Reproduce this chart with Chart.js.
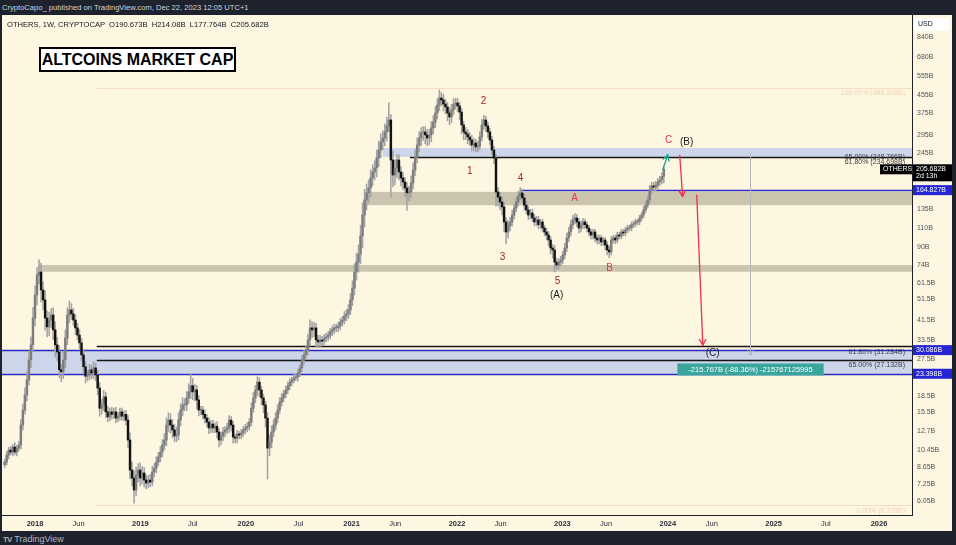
<!DOCTYPE html>
<html>
<head>
<meta charset="utf-8">
<script src="https://cdn.jsdelivr.net/npm/chart.js@4.4.1/dist/chart.umd.min.js"></script>
<style>
  html, body { margin: 0; padding: 0; width: 956px; height: 545px; overflow: hidden; background: #1e222d; font-family: "Liberation Sans", Arial, sans-serif; }
  #top { position: absolute; left: 2px; top: 0; height: 15px; line-height: 15px; color: #d1d4dc; font-size: 7.6px; }
  #wrap { position: absolute; left: 2px; top: 15px; width: 950px; height: 516px; background: #fdf6e1; }
  #legend { position: absolute; left: 5px; top: 5px; font-size: 7.6px; color: #131722; white-space: pre; }
  #title { position: absolute; left: 37px; top: 32px; width: 193px; height: 21px; line-height: 21px; border: 2px solid #000; background: #fff; font-weight: bold; font-size: 16px; text-align: center; color: #000; }
  #foot { position: absolute; left: 3px; top: 533px; height: 12px; line-height: 12px; color: #b2b5be; font-size: 9px; }
  #foot b { font-size: 8px; margin-right: 3px; letter-spacing: -1px; }
</style>
</head>
<body>
<div id="top">CryptoCapo_ published on TradingView.com, Dec 22, 2023 12:05 UTC+1</div>
<div id="wrap">
  <canvas id="chart" width="950" height="516"></canvas>
  <div id="legend">OTHERS, 1W, CRYPTOCAP  O190.673B  H214.08B  L177.764B  C205.682B</div>
  <div id="title">ALTCOINS MARKET CAP</div>
</div>
<div id="foot"><b>TV</b>TradingView</div>
<script>
// weekly candles, first one is the week of 18 Sep 2017, values in billions USD
const firstWeek = '2017-09-18';
const firstOpen = 8.9;
const closes = [
  9.15, 9.86, 10.4, 10.18, 10.73, 10.18, 10.62, 10.97, 13.56, 15.9,
  18.67, 21.9, 27.1, 31.8, 42.3, 54.1, 66.9, 69.0, 57.0, 51.3,
  42.3, 38.5, 41.4, 43.7, 37.3, 31.8, 29.5, 24.4, 23.9, 27.1,
  34.2, 43.7, 46.1, 44.2, 41.4, 38.1, 35.3, 32.5, 28.6, 25.2,
  22.8, 23.1, 24.4, 23.6, 24.9, 23.1, 20.1, 16.2, 16.8, 18.3,
  15.6, 14.8, 15.6, 15.2, 15.6, 14.6, 14.9, 15.6, 14.9, 15.2,
  14.3, 11.57, 8.41, 7.72, 6.80, 7.97, 8.41, 7.72, 8.15, 7.56,
  7.32, 7.56, 7.40, 8.24, 8.59, 9.15, 9.65, 10.18, 10.97, 11.57,
  13.56, 14.3, 13.56, 12.87, 12.07, 12.2, 14.3, 15.9, 16.8, 16.8,
  18.1, 19.3, 20.6, 19.3, 19.7, 17.7, 15.9, 15.9, 15.2, 14.6,
  14.0, 13.15, 13.7, 13.15, 13.4, 12.6, 11.57, 12.07, 12.6, 12.87,
  13.15, 14.3, 13.56, 11.94, 11.8, 12.33, 12.2, 12.46, 12.87, 13.15,
  13.4, 14.0, 16.2, 18.1, 19.7, 21.4, 19.7, 18.1, 16.8, 14.6,
  10.62, 11.32, 12.6, 13.56, 14.6, 15.9, 17.3, 18.1, 18.9, 19.7,
  20.6, 21.4, 21.9, 22.4, 22.6, 23.6, 24.9, 27.1, 28.6, 30.1,
  33.5, 38.1, 37.3, 38.1, 33.5, 32.8, 33.5, 33.1, 34.2, 34.6,
  35.3, 36.5, 37.3, 38.1, 38.1, 38.9, 40.5, 41.4, 43.2, 44.2,
  46.1, 51.3, 58.2, 69.0, 76.7, 83.6, 101.3, 126.5, 148.4, 160.0,
  168.6, 187.5, 199.9, 208.5, 232.0, 252.6, 275.0, 286.9, 305.9, 326,
  347.5, 227.1, 193.6, 208.5, 227.1, 199.9, 187.5, 179.7, 168.6, 160.0,
  161.7, 177.8, 204.2, 234.4, 266.3, 286.9, 302.7, 305.9, 296.3, 286.9,
  296.3, 319.3, 340.2, 374.2, 407.3, 439.0, 429.9, 411.6, 399.0, 374.2,
  358.8, 386.5, 411.6, 416.0, 403.2, 378.0, 329.6, 305.9, 299.5, 289.9,
  280.9, 266.3, 271.8, 260.7, 263.5, 289.9, 329.6, 347.5, 326, 305.9,
  280.9, 252.6, 232.0, 161.7, 153.2, 145.3, 137.8, 117.5, 105.6, 112.6,
  117.5, 126.5, 136.4, 145.3, 154.9, 160.0, 151.6, 140.4, 133.5, 126.5,
  129.3, 122.6, 117.5, 120.0, 114.1, 117.5, 110.2, 105.6, 102.3, 97.0,
  89.1, 87.2, 76.7, 74.3, 76.7, 78.4, 82.7, 89.1, 99.1, 105.6,
  114.1, 120.0, 122.6, 117.5, 110.2, 114.1, 117.5, 114.1, 110.2, 105.6,
  102.3, 105.6, 99.1, 97.0, 99.1, 95.0, 97.0, 92.0, 87.2, 85.4,
  97.0, 99.1, 97.0, 102.3, 101.2, 105.6, 104.5, 107.9, 110.2, 110.2,
  114.1, 115.3, 117.5, 117.5, 122.6, 126.5, 133.5, 140.4, 148.4, 165.1,
  172.2, 170.4, 174.0, 179.7, 183.6, 190.673, 205.682
];

// how far each week's wick reached past its body, in percent (up / down)
const wickUp = [
  3, 4, 3, 4, 3, 5, 3, 4, 6, 7,   8, 9, 10, 9, 12, 10, 8, 14, 10, 9,
  10, 8, 9, 7, 8, 9, 8, 7, 6, 9,   9, 8, 10, 7, 6, 6, 5, 6, 5, 6,
  6, 5, 6, 5, 7, 5, 5, 6, 6, 7,   5, 6, 4, 5, 4, 5, 4, 4, 4, 4,
  4, 5, 8, 9, 8, 9, 7, 8, 7, 6,   5, 5, 6, 6, 5, 6, 5, 6, 6, 7,
  8, 8, 7, 6, 6, 9, 8, 7, 8, 7,   7, 9, 14, 8, 6, 5, 5, 4, 4, 5,
  4, 5, 4, 4, 4, 5, 4, 4, 5, 4,   5, 5, 4, 4, 3, 4, 3, 4, 4, 4,
  4, 4, 6, 6, 5, 6, 5, 4, 4, 4,   6, 8, 7, 6, 6, 6, 5, 5, 4, 4,
  4, 4, 3, 4, 3, 4, 4, 5, 5, 5,   6, 9, 7, 6, 5, 5, 5, 4, 4, 4,
  4, 4, 4, 4, 4, 4, 4, 4, 5, 5,   6, 7, 8, 9, 10, 10, 12, 14, 12, 10,
  9, 9, 8, 8, 9, 10, 9, 8, 9, 10,   20, 6, 10, 9, 6, 6, 6, 6, 5, 6,
  6, 8, 8, 8, 8, 7, 6, 6, 6, 6,   6, 7, 7, 7, 7, 9, 6, 6, 5, 5,
  6, 6, 6, 5, 5, 4, 4, 4, 5, 5,   5, 5, 5, 4, 5, 6, 6, 5, 4, 4,
  4, 4, 4, 4, 5, 5, 5, 5, 5, 6,   5, 5, 4, 5, 5, 6, 4, 4, 4, 4,
  4, 4, 4, 4, 4, 3, 3, 3, 4, 4,   4, 4, 5, 4, 4, 4, 4, 5, 5, 5,
  5, 5, 5, 4, 4, 4, 4, 3, 3, 3,   3, 3, 3, 3, 3, 3, 3, 3, 3, 4,
  4, 3, 3, 3, 3, 3, 3, 3, 3, 3,   3, 3, 3, 3, 3, 3, 4, 4, 4, 5,
  4, 4, 4, 4, 4, 4, 4.08
];
const wickDown = [
  3, 3, 4, 3, 4, 3, 4, 3, 4, 5,   4, 6, 5, 8, 7, 8, 10, 9, 12, 10,
  12, 10, 9, 8, 10, 12, 9, 8, 10, 7,   8, 7, 8, 6, 6, 7, 5, 6, 6, 6,
  7, 5, 5, 6, 6, 6, 7, 8, 6, 6,   6, 5, 4, 5, 4, 5, 4, 4, 4, 5,
  5, 8, 9, 8, 13, 6, 7, 8, 6, 7,   6, 5, 5, 4, 5, 5, 4, 5, 5, 5,
  6, 7, 8, 8, 6, 6, 5, 6, 6, 6,   6, 6, 7, 8, 9, 9, 6, 5, 5, 5,
  5, 6, 5, 5, 5, 6, 7, 5, 5, 5,   4, 5, 6, 6, 5, 5, 4, 4, 4, 4,
  4, 4, 4, 4, 5, 6, 7, 7, 8, 9,   28, 8, 6, 5, 5, 5, 4, 4, 4, 4,
  4, 4, 4, 3, 3, 4, 4, 4, 5, 5,   5, 6, 8, 7, 7, 5, 5, 5, 4, 4,
  4, 4, 4, 4, 4, 4, 4, 4, 4, 5,   5, 5, 6, 7, 8, 10, 10, 12, 12, 10,
  10, 9, 8, 8, 9, 9, 8, 8, 8, 9,   6, 33, 12, 10, 10, 8, 8, 8, 9, 17,
  8, 6, 6, 6, 6, 7, 8, 8, 9, 8,   7, 7, 6, 6, 6, 6, 6, 7, 7, 8,
  8, 6, 5, 5, 6, 8, 9, 8, 6, 7,   6, 6, 6, 5, 5, 4, 4, 5, 6, 6,
  5, 5, 6, 14, 9, 8, 8, 10, 12, 6,   5, 4, 4, 4, 4, 4, 5, 5, 4, 5,
  4, 4, 4, 4, 4, 4, 4, 4, 5, 6,   6, 8, 10, 5, 4, 4, 4, 4, 4, 4,
  4, 4, 4, 5, 5, 4, 4, 4, 4, 4,   4, 4, 4, 4, 4, 4, 4, 5, 5, 6,
  3, 3, 4, 3, 3, 3, 3, 3, 3, 3,   3, 3, 3, 3, 3, 3, 3, 3, 3, 4,
  4, 4, 4, 4, 4, 4, 6.77
];

// axes
const tickDates  = ['2018-01-01', '2018-06-01', '2019-01-01', '2019-07-01', '2020-01-01', '2020-07-01', '2021-01-01', '2021-06-01', '2022-01-01', '2022-06-01', '2023-01-01', '2023-06-01', '2024-01-01', '2024-06-01', '2025-01-01', '2025-07-01', '2026-01-01'];
const tickLabels = ['2018', 'Jun', '2019', 'Jul', '2020', 'Jul', '2021', 'Jun', '2022', 'Jun', '2023', 'Jun', '2024', 'Jun', '2025', 'Jul', '2026'];
const priceTicks = [840, 680, 555, 455, 375, 295, 245, 135, 110, 90, 74, 61.5, 51.5, 41.5, 33.5, 27.5, 18.5, 15.5, 12.7, 10.45, 8.65, 7.25, 6.05];

// drawn zones (from date, top, bottom, kind)
const zoneFrom   = ['2021-04-19', '2021-02-19', '2018-01-11', null];
const zoneTop    = [258, 161.8, 74.3, 30.086];
const zoneBottom = [234.7, 140.4, 69.2, 23.398];
const zoneKind   = ['blue', 'tan', 'tan', 'blue'];

// horizontal levels
const levelFrom  = ['2021-07-22', '2022-08-06', null, null, '2018-08-03', '2018-08-03', '2018-08-03', '2018-08-03'];
const levelValue = [234.698, 164.827, 30.086, 23.398, 31.284, 27.132, 488.308, 5.778];
const levelKind  = ['black', 'blue', 'blue', 'blue', 'black', 'black', 'faint', 'faint'];
const fibValue = [488.308, 248.766, 234.698, 31.284, 27.132, 5.778];
const fibText  = ['100.00% (488.308B)', '65.00% (248.766B)', '61.80% (234.698B)', '61.80% (31.284B)', '65.00% (27.132B)', '0.00% (5.778B)'];

// Elliott wave marks
const waveText  = ['1', '2', '3', '4', '5', 'A', 'B', 'C', '(A)', '(B)', '(C)'];
const waveDate  = ['2022-02-14', '2022-04-03', '2022-06-08', '2022-08-09', '2022-12-15', '2023-02-12', '2023-06-13', '2024-01-04', '2022-12-12', '2024-03-06', '2024-06-04'];
const waveValue = [202, 425, 81, 187, 62.6, 151, 72, 281, 53.8, 275, 29.0];

// arrows [date, value]
const arrowFrom = [['2023-12-14', 204], ['2024-02-11', 240], ['2024-04-10', 157]];
const arrowTo   = [['2024-01-01', 240], ['2024-02-21', 154], ['2024-05-01', 31.7]];
const arrowKind = ['up', 'down', 'down'];

// price range measure
const measureDate = '2024-10-10';
const measureFrom = 244.19;
const measureTo = 28.42;
const measureText = '-215.767B (-88.36%) -215767125995';

const ms = d => Date.parse(d);
const WEEK = 7 * 864e5;
const times = closes.map((c, i) => ms(firstWeek) + i * WEEK);
const opens = closes.map((c, i) => i ? closes[i - 1] : firstOpen);

const bodies = closes.map((c, i) => ({ x: times[i], y: [opens[i], c] }));
const bodyColors = closes.map((c, i) => c >= opens[i] ? '#7d7d7d' : '#121212');
const wicks = closes.map((c, i) => ({
  x: times[i],
  y: [Math.min(opens[i], c) * (1 - wickDown[i] / 100), Math.max(opens[i], c) * (1 + wickUp[i] / 100)]
}));

function arrow(ctx, x0, y0, x1, y1) {
  ctx.beginPath(); ctx.moveTo(x0, y0); ctx.lineTo(x1, y1); ctx.stroke();
  const ang = Math.atan2(y1 - y0, x1 - x0), h = 7;
  ctx.beginPath();
  ctx.moveTo(x1 - h * Math.cos(ang - 0.5), y1 - h * Math.sin(ang - 0.5));
  ctx.lineTo(x1, y1);
  ctx.lineTo(x1 - h * Math.cos(ang + 0.5), y1 - h * Math.sin(ang + 0.5));
  ctx.stroke();
}

function tag(ctx, left, width, py, fill, lines, color) {
  const h = lines.length > 1 ? 17 : 10;
  ctx.fillStyle = fill;
  ctx.fillRect(left, py - 5, width, h);
  ctx.fillStyle = color;
  ctx.textAlign = 'left'; ctx.textBaseline = 'middle';
  lines.forEach((t, i) => ctx.fillText(t, left + 3, py + i * 7));
}

const overlay = {
  id: 'overlay',
  beforeDatasetsDraw(chart) {
    const { ctx, chartArea: a, scales: { x, y } } = chart;
    ctx.save();
    ctx.beginPath(); ctx.rect(a.left, a.top, a.right - a.left, a.bottom - a.top); ctx.clip();
    zoneFrom.forEach((d, i) => {
      const x0 = d ? x.getPixelForValue(ms(d)) : a.left;
      const y0 = y.getPixelForValue(zoneTop[i]), y1 = y.getPixelForValue(zoneBottom[i]);
      ctx.fillStyle = zoneKind[i] === 'blue' ? '#ccd5e9' : '#cbc4af';
      ctx.fillRect(x0, y0, a.right - x0, y1 - y0);
    });
    levelValue.forEach((v, i) => {
      const x0 = levelFrom[i] ? x.getPixelForValue(ms(levelFrom[i])) : a.left;
      const py = Math.round(y.getPixelForValue(v)) + 0.5;
      ctx.strokeStyle = { black: '#151515', blue: '#2b2bc4', faint: '#f6dcc2' }[levelKind[i]];
      ctx.lineWidth = levelKind[i] === 'faint' ? 1 : 1.3;
      ctx.beginPath(); ctx.moveTo(x0, py); ctx.lineTo(a.right, py); ctx.stroke();
    });
    ctx.font = '7px "Liberation Sans", Arial';
    ctx.textAlign = 'right'; ctx.textBaseline = 'top';
    fibValue.forEach((v, i) => {
      ctx.fillStyle = (i === 0 || i === fibValue.length - 1) ? '#f3d3b4' : '#3b3e48';
      ctx.fillText(fibText[i], a.right - 7, y.getPixelForValue(v) + 2);
    });
    ctx.restore();
  },
  afterDatasetsDraw(chart) {
    const { ctx, chartArea: a, scales: { x, y } } = chart;
    ctx.save();
    // measure line and its label
    const mx = Math.round(x.getPixelForValue(ms(measureDate))) + 0.5;
    const my0 = y.getPixelForValue(measureFrom), my1 = y.getPixelForValue(measureTo);
    ctx.strokeStyle = '#b4b7bf'; ctx.lineWidth = 1;
    arrow(ctx, mx, my0, mx, my1);
    ctx.font = '7.5px "Liberation Sans", Arial';
    const tw = ctx.measureText(measureText).width + 22;
    ctx.fillStyle = '#38a69c';
    ctx.fillRect(mx - tw / 2, my1 + 8, tw, 12);
    ctx.fillStyle = '#fff'; ctx.textAlign = 'center'; ctx.textBaseline = 'middle';
    ctx.fillText(measureText, mx, my1 + 14.5);
    // arrows
    ctx.lineWidth = 1.3;
    arrowFrom.forEach((f, i) => {
      ctx.strokeStyle = arrowKind[i] === 'up' ? '#1fa68f' : '#ee3047';
      arrow(ctx, x.getPixelForValue(ms(f[0])), y.getPixelForValue(f[1]),
        x.getPixelForValue(ms(arrowTo[i][0])), y.getPixelForValue(arrowTo[i][1]));
    });
    // wave labels
    ctx.font = '10px "Liberation Sans", Arial';
    ctx.textAlign = 'center'; ctx.textBaseline = 'middle';
    waveText.forEach((t, i) => {
      ctx.fillStyle = t[0] === '(' ? '#1b1b1b' : /\d/.test(t) ? '#a3252b' : '#e8344a';
      ctx.fillText(t, x.getPixelForValue(ms(waveDate[i])), y.getPixelForValue(waveValue[i]));
    });
    ctx.restore();
  },
  afterDraw(chart) {
    const { ctx, chartArea: a, scales: { y }, width } = chart;
    ctx.save();
    ctx.font = '7px "Liberation Sans", Arial';
    const last = closes[closes.length - 1];
    const py = y.getPixelForValue(last);
    tag(ctx, a.right - 32, 32, py, '#000', ['OTHERS'], '#fff');
    tag(ctx, a.right + 1, width - a.right - 1, py, '#000', [last + 'B', '2d 13h'], '#fff');
    [164.827, 30.086, 23.398].forEach(v => {
      tag(ctx, a.right + 1, width - a.right - 1, y.getPixelForValue(v), '#2525d6', [v.toFixed(3) + 'B'], '#fff');
    });
    ctx.fillStyle = '#fff';
    ctx.fillRect(a.right + 3, a.top + 3, width - a.right - 6, 13);
    ctx.fillStyle = '#131722'; ctx.textAlign = 'left'; ctx.textBaseline = 'middle';
    ctx.fillText('USD', a.right + 6, a.top + 9.5);
    ctx.restore();
  }
};

Chart.defaults.font.family = '"Liberation Sans", Arial, sans-serif';

new Chart(document.getElementById('chart'), {
  type: 'bar',
  data: {
    datasets: [
      { data: bodies, backgroundColor: bodyColors, barThickness: 1.8, minBarLength: 1, grouped: false, borderWidth: 0 },
      { data: wicks, backgroundColor: '#a3a3a3', barThickness: 0.9, grouped: false, borderWidth: 0 }
    ]
  },
  options: {
    responsive: false,
    animation: false,
    layout: { padding: 0 },
    plugins: { legend: { display: false }, tooltip: { enabled: false } },
    scales: {
      x: {
        type: 'linear',
        offset: false,
        min: 1504893582720,
        max: 1777096817280,
        afterBuildTicks: s => { s.ticks = tickDates.map(d => ({ value: ms(d) })); },
        afterFit: s => { s.height = 16; s.paddingLeft = 0; s.paddingRight = 0; },
        grid: { display: false, drawTicks: false },
        border: { display: true, color: '#1e222d', width: 1 },
        ticks: {
          autoSkip: false, maxRotation: 0, padding: 4, color: '#2a2e39',
          callback: (v, i) => tickLabels[i],
          font: c => ({ size: 7.5, weight: /^\d/.test(tickLabels[c.index] || '') ? 'bold' : 'normal' })
        }
      },
      y: {
        type: 'logarithmic',
        position: 'right',
        min: 5.213,
        max: 1060.6,
        bounds: 'data',
        afterBuildTicks: s => { s.ticks = priceTicks.map(v => ({ value: v })); },
        afterFit: s => { s.width = 40; s.paddingTop = 0; s.paddingBottom = 0; },
        grid: { display: false, drawTicks: false },
        border: { display: true, color: '#1e222d', width: 1 },
        ticks: { autoSkip: false, padding: 5, color: '#50535e', font: { size: 7 }, callback: v => v + 'B' }
      }
    }
  },
  plugins: [overlay]
});
</script>
</body>
</html>
